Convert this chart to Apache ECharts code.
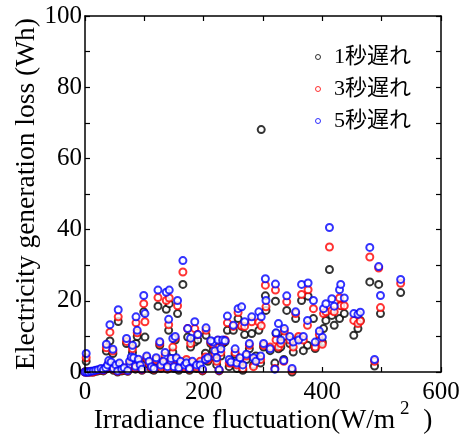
<!DOCTYPE html>
<html><head><meta charset="utf-8">
<script src="https://cdn.jsdelivr.net/npm/echarts@6/dist/echarts.min.js"></script>
<style>html,body{margin:0;padding:0;background:#fff}#c{width:464px;height:434px;background:#fff}</style>
</head><body><div id="c"></div>
<script>
const seriesNames = ['1秒遅れ', '3秒遅れ', '5秒遅れ'];
const seriesColors = ['#000000', '#ff0000', '#0000ff'];
const xTicks = [0, 200, 400, 600];
const yTicks = [0, 20, 40, 60, 80, 100];
// Irradiance fluctuation (W/m2) shared by the three delay series
const xValues = [
  2, 36, 42, 47, 56, 70, 80, 86, 88, 99, 101, 123, 126, 137, 141, 142, 148, 152, 156, 165,
  173, 178, 185, 190, 204, 203, 216, 224, 232, 240, 250, 258, 264, 269, 281, 293, 297, 304, 305, 301,
  321, 322, 326, 340, 336, 351, 355, 365, 376, 375, 385, 388, 402, 406, 400, 412, 416, 420, 429, 431,
  437, 453, 460, 464, 480, 488, 495, 498, 532,
  0, 3, 6, 10, 14, 18, 22, 27, 31, 35, 38, 40, 44, 48, 52, 55, 58, 62, 66, 72,
  75, 78, 82, 85, 90, 93, 96, 104, 108, 112, 116, 120, 128, 132, 135, 139, 145, 150, 154, 158,
  161, 168, 171, 176, 181, 188, 194, 198, 207, 212, 219, 222, 226, 229, 236, 243, 246, 253, 256, 261,
  266, 272, 277, 284, 288, 296, 312, 320, 335, 349, 330, 345, 360, 368, 395
];
// Generation loss (Wh), 1 s delay
const loss1s = [
  3.0, 5.9, 8.7, 5.2, 14.2, 8.0, 5.5, 8.0, 10.0, 16.9, 9.8, 18.5, 7.5, 17.6, 11.7, 19.2, 5.6, 9.0, 16.4, 24.6,
  9.8, 7.0, 8.4, 9.0, 10.3, 5.3, 6.1, 7.0, 8.0, 11.7, 11.7, 15.0, 12.8, 10.5, 10.8, 11.7, 68.1, 21.4, 17.3, 7.0,
  19.9, 10.8, 6.5, 17.3, 10.0, 5.6, 15.0, 20.1, 21.3, 7.5, 15.0, 6.6, 12.2, 14.5, 8.4, 28.8, 15.9, 13.1, 15.0, 18.7,
  16.4, 10.3, 12.2, 14.5, 25.3, 1.7, 24.6, 16.4, 22.3,
  0, 0, 0, 0, 0, 0.2, 0.3, 0.5, 0.3, 0.8, 1.0, 2.0, 1.5, 0.5, 1.0, 0, 1.5, 0.3, 0.5, 0.2,
  1.5, 3.0, 2.0, 0.8, 2.5, 1.2, 0.5, 3.5, 2.0, 0.8, 0.5, 3.0, 1.0, 2.0, 3.5, 0.8, 2.5, 1.0, 3.0, 0.5,
  2.0, 1.0, 3.0, 0.5, 2.0, 1.0, 2.5, 0.3, 3.0, 8.0, 4.0, 2.0, 0.3, 4.5, 8.5, 1.5, 3.0, 5.0, 1.0, 2.5,
  0.5, 3.5, 6.5, 2.0, 4.5, 2.5, 6.0, 2.5, 3.5, 0, 7.0, 8.0, 9.5, 6.0, 9.0
];
// Generation loss (Wh), 3 s delay
const loss3s = [
  4.0, 6.8, 11.2, 5.9, 15.5, 8.6, 6.5, 13.8, 11.0, 19.2, 14.1, 20.9, 8.0, 20.1, 13.3, 20.8, 7.0, 9.5, 18.6, 28.1,
  12.2, 8.0, 12.2, 10.5, 11.7, 4.2, 7.8, 8.9, 8.5, 13.8, 12.8, 16.7, 13.0, 12.8, 14.1, 14.0, 13.0, 24.4, 18.3, 7.5,
  23.0, 9.0, 7.0, 19.7, 11.5, 7.0, 16.4, 21.8, 23.1, 13.1, 17.8, 7.0, 16.4, 16.9, 7.8, 35.1, 17.3, 16.9, 20.8, 18.6,
  18.6, 14.5, 13.6, 14.3, 32.3, 3.0, 29.2, 18.1, 24.9,
  0, 0, 0, 0, 0, 0.3, 0.5, 0.8, 0.5, 1.0, 1.5, 2.5, 2.0, 0.8, 1.5, 0.2, 2.0, 0.5, 1.0, 0.3,
  2.0, 3.5, 3.0, 1.2, 3.0, 1.5, 0.6, 4.0, 2.5, 1.2, 0.8, 3.5, 1.5, 2.5, 4.5, 1.0, 3.0, 1.5, 3.5, 1.0,
  2.5, 1.5, 3.5, 0.8, 2.5, 1.5, 3.0, 0.5, 3.5, 8.5, 5.0, 3.0, 0.5, 5.5, 9.0, 2.5, 2.5, 5.5, 2.0, 3.0,
  1.0, 4.5, 7.5, 1.5, 3.5, 3.5, 7.0, 1.0, 3.0, 0.5, 8.0, 9.0, 10.0, 9.0, 10.5
];
// Generation loss (Wh), 5 s delay
const loss5s = [
  5.2, 7.8, 13.3, 6.4, 17.5, 9.4, 7.5, 15.5, 11.7, 21.5, 16.4, 23.0, 8.5, 22.4, 14.8, 23.0, 9.4, 10.0, 20.1, 31.3,
  12.2, 9.5, 14.1, 10.5, 12.4, 3.5, 8.4, 9.0, 9.0, 15.7, 13.1, 17.8, 18.3, 14.1, 15.5, 16.9, 15.5, 26.2, 20.1, 8.0,
  24.7, 11.0, 13.6, 21.4, 12.2, 8.4, 16.9, 24.6, 25.0, 14.5, 20.1, 8.4, 17.8, 19.2, 9.8, 40.6, 20.6, 18.5, 23.1, 24.6,
  20.8, 16.4, 16.2, 16.8, 35.0, 3.5, 29.6, 21.5, 26.0,
  0, 0, 0, 0.2, 0.3, 0.5, 0.6, 1.0, 0.6, 1.2, 2.0, 3.2, 2.8, 1.0, 2.0, 0.3, 2.5, 0.8, 1.2, 0.4,
  3.0, 4.2, 4.0, 1.6, 3.6, 2.0, 0.8, 4.5, 3.0, 1.5, 1.0, 4.0, 2.0, 3.0, 5.5, 1.5, 3.8, 1.5, 4.0, 1.2,
  3.0, 2.0, 2.5, 1.0, 3.0, 2.0, 2.0, 0.8, 4.0, 8.8, 6.0, 4.0, 0.6, 6.5, 8.8, 3.5, 2.8, 6.5, 2.5, 4.0,
  2.0, 5.0, 8.0, 4.0, 3.0, 4.5, 6.5, 0.8, 3.2, 1.0, 9.0, 10.0, 9.0, 10.0, 11.5
];
const lossSeries = [loss1s, loss3s, loss5s];

const FONT = '"Liberation Serif", "Times New Roman", serif';
const CJK = '"Liberation Serif", "Noto Sans CJK JP", serif';
const chart = echarts.init(document.getElementById('c'), null, {renderer: 'canvas'});

function axisLineOpt() {
  return {show: true, onZero: false, lineStyle: {color: '#000', width: 1.5}};
}
function axisTickOpt() {
  return {show: true, inside: true, length: 5, lineStyle: {color: '#000', width: 1.2}};
}

chart.setOption({
  animation: false,
  grid: {left: 85, right: 23, top: 16, bottom: 62, outerBoundsMode: 'none'},
  legend: {
    orient: 'vertical', left: 310, top: 41, itemGap: 10,
    itemWidth: 22, itemHeight: 5,
    data: seriesNames.map(n => ({name: n, icon: 'circle'})),
    itemStyle: {color: '#fff', borderWidth: 1},
    textStyle: {fontFamily: CJK, fontSize: 22, color: '#000'}
  },
  xAxis: [
    {
      type: 'value', min: 0, max: 600, interval: 100, position: 'bottom', z: 10,
      axisLine: axisLineOpt(), axisTick: axisTickOpt(), splitLine: {show: false},
      axisLabel: {
        margin: 8, fontFamily: FONT, fontSize: 25, color: '#000',
        formatter: v => (xTicks.indexOf(v) >= 0 ? String(v) : '')
      },
      name: '{a|Irradiance fluctuation(W/m}{s| 2}{a|  )}',
      nameLocation: 'middle', nameGap: 28, nameMoveOverlap: false,
      nameTextStyle: {
        rich: {
          a: {fontFamily: FONT, fontSize: 27.5, color: '#000', lineHeight: 30},
          s: {fontFamily: FONT, fontSize: 19, color: '#000', padding: [0, 0, 22, 0]}
        }
      }
    },
    {
      type: 'value', min: 0, max: 600, interval: 100, position: 'top', z: 10,
      axisLine: axisLineOpt(), axisTick: axisTickOpt(), splitLine: {show: false},
      axisLabel: {show: false}
    }
  ],
  yAxis: [
    {
      type: 'value', min: 0, max: 100, interval: 10, position: 'left', z: 10,
      axisLine: axisLineOpt(), axisTick: axisTickOpt(), splitLine: {show: false},
      axisLabel: {
        margin: 3, fontFamily: FONT, fontSize: 25, color: '#000',
        formatter: v => (yTicks.indexOf(v) >= 0 ? String(v) : '')
      },
      name: 'Electricity generation loss (Wh)',
      nameLocation: 'middle', nameGap: 44, nameRotate: 90, nameMoveOverlap: false,
      nameTextStyle: {fontFamily: FONT, fontSize: 27.5, color: '#000'}
    },
    {
      type: 'value', min: 0, max: 100, interval: 10, position: 'right', z: 10,
      axisLine: axisLineOpt(), axisTick: axisTickOpt(), splitLine: {show: false},
      axisLabel: {show: false}
    }
  ],
  series: seriesNames.map((name, i) => ({
    name: name,
    type: 'scatter',
    xAxisIndex: 0, yAxisIndex: 0,
    symbol: 'emptyCircle',
    symbolSize: 7,
    itemStyle: {color: seriesColors[i], borderColor: seriesColors[i], borderWidth: 1},
    data: xValues.map((x, k) => [x, lossSeries[i][k]]),
    z: 2 + i
  }))
});
</script></body></html>
